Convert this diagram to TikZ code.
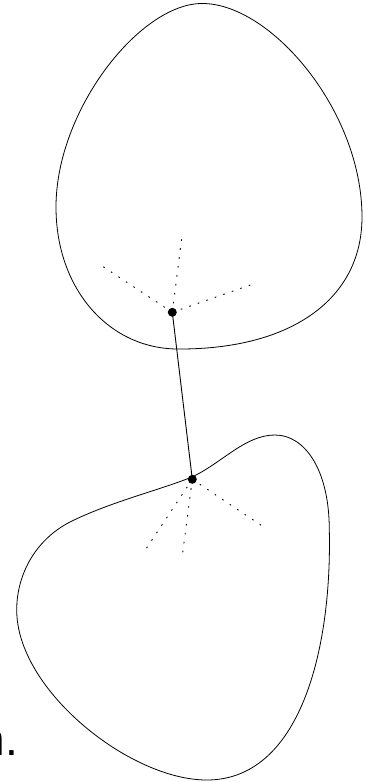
\documentclass[tikz,border=0pt]{standalone}
\usepackage{fontspec}
\newfontfamily\labelfont{Liberation Sans}
\tikzset{
  outline/.style={line width=0.8pt, black},
  ray/.style={line width=0.9pt, black, dash pattern=on 1.6pt off 7.4pt},
  link/.style={line width=0.9pt, black},
  pt/.style={circle, fill=black, inner sep=0pt, minimum size=9pt}
}
\begin{document}
\begin{tikzpicture}[x=1pt,y=-1pt]
\useasboundingbox (0,0) rectangle (366,782);
% upper blob
\draw[outline] (202,3.5) .. controls (270,3) and (362,110) .. (362,217)
  .. controls (362,300) and (290,349) .. (180,349)
  .. controls (110,350) and (56,290) .. (56,207)
  .. controls (56,110) and (140,3.5) .. (202,3.5) -- cycle;
% lower blob
\draw[outline] (275,435) .. controls (245,435) and (222,463) .. (192,477)
  .. controls (160,490) and (110,502) .. (70,522)
  .. controls (35,540) and (16.7,575) .. (16.7,610)
  .. controls (16.7,690) and (130,780) .. (206.7,780)
  .. controls (300,780) and (332,650) .. (329.3,530)
  .. controls (329.3,470) and (305,435) .. (275,435) -- cycle;
% dots
\node[pt] (a) at (172.3,312.3) {};
\node[pt] (b) at (192.3,479.3) {};
% ray ends
\coordinate (a1) at (181.7,238.3);
\coordinate (a2) at (101.7,265.7);
\coordinate (a3) at (252.3,284.3);
\coordinate (b1) at (145.7,549.3);
\coordinate (b2) at (182.7,552.7);
\coordinate (b3) at (263.3,526.7);
\draw[ray] (a.center) -- (a1);
\draw[ray] (a.center) -- (a2);
\draw[ray] (a.center) -- (a3);
\draw[ray] (b.center) -- (b1);
\draw[ray] (b.center) -- (b2);
\draw[ray] (b.center) -- (b3);
\draw[link] (a.center) -- (b.center);
% clipped label
\node[anchor=base east, inner sep=0pt, font=\labelfont\fontsize{46}{50}\selectfont] (lbl) at (18,755) {n.};
\end{tikzpicture}
\end{document}
